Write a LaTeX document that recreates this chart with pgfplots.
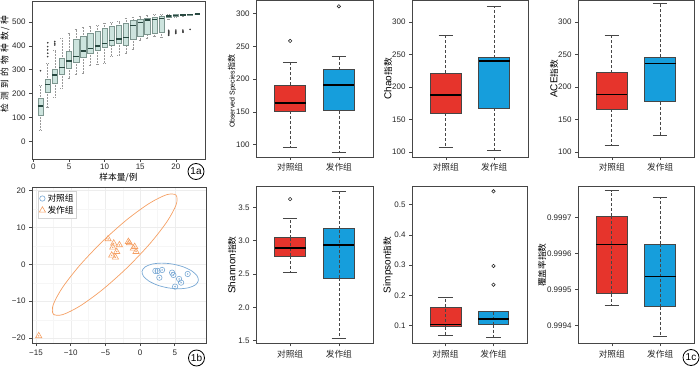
\documentclass[border=0pt]{standalone}
\usepackage{pgfplots}
\pgfplotsset{compat=1.18}
\usepgfplotslibrary{statistics}
\usepackage{fontspec}
\setmainfont{Liberation Sans}
\newfontfamily\cjk{Noto Sans CJK SC}
\definecolor{cred}{RGB}{230,52,44}
\definecolor{cblue}{RGB}{22,158,220}
\definecolor{cteal}{RGB}{205,228,222}
\definecolor{cteald}{RGB}{125,150,143}
\definecolor{cmed}{RGB}{40,72,64}
\definecolor{pblue}{RGB}{120,168,212}
\definecolor{porange}{RGB}{245,160,100}
\definecolor{frame}{RGB}{70,70,70}
\newcommand{\ck}[1]{{\cjk\fontsize{8.7}{9}\selectfont #1}}
\pgfplotsset{
  base/.style={
    scale only axis, anchor=south west,
    axis line style={draw=frame, line width=0.8pt},
    tick align=outside, xtick pos=bottom, ytick pos=left,
    major tick length=3pt,
    every tick/.style={frame, line width=0.6pt},
    tick label style={font=\fontsize{8}{9}\selectfont, text=black!85},
    label style={font=\fontsize{8.5}{9}\selectfont, text=black!85},
  },
  ylab/.style 2 args={every axis y label/.style={at={(axis description cs:0,#2)}, xshift=#1, rotate=90, anchor=center}},
  cmp/.style={
    base, width=117pt, height=156.5pt,
    xmin=0.3, xmax=2.7, xtick={1,2},
    xticklabels={\ck{对照组},\ck{发作组}},
    ylab={-24pt}{0.5},
    boxplot/draw direction=y,
    boxplot/box extend=0.64,
    boxplot/whisker extend=0.3,
    boxplot/every median/.style={line width=1.5pt, draw=black},
    boxplot/draw/lower whisker/.code={
      \draw[dash pattern=on 3pt off 2pt, frame, line width=0.7pt] (boxplot box cs:\pgfplotsboxplotvalue{lower quartile},0.5) -- (boxplot box cs:\pgfplotsboxplotvalue{lower whisker},0.5);
      \draw[frame, line width=0.7pt] (boxplot whisker cs:\pgfplotsboxplotvalue{lower whisker},0) -- (boxplot whisker cs:\pgfplotsboxplotvalue{lower whisker},1);
    },
    boxplot/draw/upper whisker/.code={
      \draw[dash pattern=on 3pt off 2pt, frame, line width=0.7pt] (boxplot box cs:\pgfplotsboxplotvalue{upper quartile},0.5) -- (boxplot box cs:\pgfplotsboxplotvalue{upper whisker},0.5);
      \draw[frame, line width=0.7pt] (boxplot whisker cs:\pgfplotsboxplotvalue{upper whisker},0) -- (boxplot whisker cs:\pgfplotsboxplotvalue{upper whisker},1);
    },
  },
  thru/.style={
    boxplot/draw/box/.code={
      \draw[/pgfplots/boxplot/every box/.try] (boxplot box cs:\pgfplotsboxplotvalue{lower quartile},0) rectangle (boxplot box cs:\pgfplotsboxplotvalue{upper quartile},1);
      \draw[dash pattern=on 3pt off 2pt, frame, line width=0.7pt] (boxplot box cs:\pgfplotsboxplotvalue{lower quartile},0.5) -- (boxplot box cs:\pgfplotsboxplotvalue{upper quartile},0.5);
    },
  },
  redbox/.style={boxplot/every box/.style={fill=cred, draw=frame, line width=0.7pt}, mark=o, mark size=1.7pt, mark options={solid, draw=black!85, line width=0.6pt}},
  bluebox/.style={boxplot/every box/.style={fill=cblue, draw=frame, line width=0.7pt}, mark=o, mark size=1.7pt, mark options={solid, draw=black!85, line width=0.6pt}},
  rare/.style={
    boxplot/every box/.style={fill=cteal, draw=cteald, line width=0.5pt},
    boxplot/every median/.style={draw=cmed, line width=1.4pt},
    boxplot/every whisker/.style={densely dotted, draw=gray!80, line width=0.5pt},
    mark=*, mark size=0.6pt, mark options={solid, fill=black!75, draw=black!75},
  },
}
\begin{document}
\begin{tikzpicture}
\useasboundingbox (0,0) rectangle (700pt,367pt);

% ---------- 1a rarefaction ----------
\begin{axis}[base, at={(32pt,208pt)}, width=173pt, height=158pt,
  xmin=-0.2, xmax=24.1, ymin=-74, ymax=588,
  xtick={0,5,10,15,20}, xticklabels={0,5,10,15,20},
  ytick={0,100,200,300,400,500}, yticklabels={0,100,200,300,400,500},
  xticklabel style={yshift=2pt},
  xlabel={\ck{样本量/例}},
  ylabel={\ck{检\hspace{3.2pt}测\hspace{3.2pt}到\hspace{3.2pt}的\hspace{3.2pt}物\hspace{3.2pt}种\hspace{3.2pt}数\hspace{2pt}/\hspace{2pt}种}},
  ylab={-27pt}{0.6},
  every axis x label/.style={at={(axis description cs:0.5,0)}, yshift=-19pt, anchor=center},
  boxplot/draw direction=y, boxplot/box extend=0.75, boxplot/whisker extend=0.4,
]
\addplot[rare, boxplot prepared={draw position=1, lower whisker=47.5, lower quartile=110, median=148, upper quartile=180, upper whisker=236}] table[row sep=\\,y index=0] {data\\ 296\\};
\addplot[rare, boxplot prepared={draw position=2, lower whisker=142, lower quartile=205, median=237, upper quartile=260, upper whisker=327}] table[row sep=\\,y index=0] {data\\ 355\\ 369\\ 383\\ 397\\ 413\\};
\addplot[rare, boxplot prepared={draw position=3, lower whisker=183, lower quartile=243, median=278, upper quartile=303, upper whisker=383}] table[row sep=\\,y index=0] {data\\ 404\\ 411\\ 418\\};
\addplot[rare, boxplot prepared={draw position=4, lower whisker=222, lower quartile=282, median=310, upper quartile=348, upper whisker=432}] coordinates {};
\addplot[rare, boxplot prepared={draw position=5, lower whisker=264, lower quartile=306, median=337, upper quartile=379, upper whisker=453}] coordinates {};
\addplot[rare, boxplot prepared={draw position=6, lower whisker=282, lower quartile=331, median=355, upper quartile=427, upper whisker=469}] coordinates {};
\addplot[rare, boxplot prepared={draw position=7, lower whisker=285, lower quartile=352, median=379, upper quartile=441, upper whisker=478}] coordinates {};
\addplot[rare, boxplot prepared={draw position=8, lower whisker=320, lower quartile=369, median=390, upper quartile=453, upper whisker=483}] coordinates {};
\addplot[rare, boxplot prepared={draw position=9, lower whisker=324, lower quartile=381, median=399, upper quartile=462, upper whisker=487}] coordinates {};
\addplot[rare, boxplot prepared={draw position=10, lower whisker=327, lower quartile=394, median=411, upper quartile=474, upper whisker=494}] coordinates {};
\addplot[rare, boxplot prepared={draw position=11, lower whisker=355, lower quartile=404, median=422, upper quartile=483, upper whisker=497}] coordinates {};
\addplot[rare, boxplot prepared={draw position=12, lower whisker=362, lower quartile=411, median=429, upper quartile=487, upper whisker=505}] coordinates {};
\addplot[rare, boxplot prepared={draw position=13, lower whisker=369, lower quartile=404, median=436, upper quartile=494, upper whisker=515}] coordinates {};
\addplot[rare, boxplot prepared={draw position=14, lower whisker=386, lower quartile=427, median=485, upper quartile=506, upper whisker=520}] coordinates {};
\addplot[rare, boxplot prepared={draw position=15, lower whisker=425, lower quartile=441, median=499, upper quartile=513, upper whisker=525}] coordinates {};
\addplot[rare, boxplot prepared={draw position=16, lower whisker=432, lower quartile=450, median=508, upper quartile=515, upper whisker=529}] coordinates {};
\addplot[rare, boxplot prepared={draw position=17, lower whisker=439, lower quartile=453, median=511, upper quartile=520, upper whisker=531}] coordinates {};
\addplot[rare, boxplot prepared={draw position=18, lower whisker=436, lower quartile=457, median=515, upper quartile=522, upper whisker=532}] coordinates {};
\addplot[rare, boxplot prepared={draw position=19, lower whisker=513, lower quartile=520, median=525, upper quartile=529, upper whisker=532}] table[row sep=\\,y index=0] {data\\ 444\\ 448\\ 452\\ 456\\ 460\\ 465\\};
\addplot[rare, boxplot prepared={draw position=20, lower whisker=519, lower quartile=524, median=527, upper quartile=531, upper whisker=533}] table[row sep=\\,y index=0] {data\\ 452\\ 456\\ 460\\ 466\\};
\addplot[rare, boxplot prepared={draw position=21, lower whisker=523, lower quartile=527, median=530, upper quartile=532, upper whisker=534}] table[row sep=\\,y index=0] {data\\ 457\\ 461\\ 466\\};
\addplot[rare, boxplot prepared={draw position=22, lower whisker=527, lower quartile=530, median=532, upper quartile=533, upper whisker=534}] table[row sep=\\,y index=0] {data\\ 469\\};
\addplot[rare, boxplot prepared={draw position=23, lower whisker=533.5, lower quartile=533.5, median=533.5, upper quartile=533.5, upper whisker=533.5}] coordinates {};
\end{axis}

% ---------- 1b PCA ----------
\begin{axis}[base, at={(32pt,24pt)}, width=174pt, height=156pt,
  xmin=-15.58, xmax=9.5, ymin=-21.3, ymax=20.9,
  xtick={-15,-10,-5,0,5}, xticklabels={−15,−10,−5,0,5},
  ytick={-20,-10,0,10,20}, yticklabels={−20,−10,0,10,20},
  minor x tick num=1, minor y tick num=1, minor tick length=0pt,
  grid=both, major grid style={gray!14, line width=0.4pt}, minor grid style={gray!7, line width=0.3pt},
  legend style={at={(0.035,0.975)}, anchor=north west, draw=gray!35, fill=white,
    font=\fontsize{8.5}{9}\selectfont, inner sep=1pt, row sep=-1pt},
  legend cell align=left,
]
\addplot[porange, line width=0.7pt, smooth cycle, no markers, forget plot] coordinates {
 (5.18,18.70) (5.20,16.14) (3.87,11.51) (1.40,5.54) (-1.85,-0.89) (-5.37,-6.79) (-8.63,-11.25) (-11.14,-13.61)
 (-12.50,-13.50) (-12.52,-10.94) (-11.19,-6.31) (-8.72,-0.34) (-5.47,6.09) (-1.95,11.99) (1.31,16.45) (3.82,18.81)};
\addplot[pblue, line width=0.7pt, smooth cycle, no markers, forget plot] coordinates {
 (8.40,-4.43) (8.20,-3.10) (7.42,-1.77) (6.16,-0.66) (4.63,0.07) (3.05,0.31) (1.68,0.02) (0.70,-0.75)
 (0.28,-1.89) (0.48,-3.22) (1.27,-4.55) (2.52,-5.66) (4.05,-6.39) (5.63,-6.63) (7.01,-6.34) (7.98,-5.57)};
\addplot[only marks, mark=o, mark size=2.7pt, pblue, line width=0.6pt] coordinates {
 (2.20,-1.81) (2.54,-1.81) (3.17,-1.54) (2.78,-3.62) (4.61,-2.27) (4.80,-2.89) (5.62,-3.97) (5.91,-4.97) (5.04,-6.05) (6.86,-2.63)};
\addlegendentry{\ck{对照组}}
\addplot[only marks, mark=triangle, mark size=3.6pt, porange, line width=0.6pt] coordinates {
 (-4.61,6.84) (-3.80,5.68) (-2.98,5.22) (-3.94,4.59) (-3.37,3.41) (-4.09,2.43) (-3.56,1.89) (-1.69,6.11) (-1.54,5.76) (-0.78,4.76) (-0.97,4.32) (-0.58,3.41) (-14.61,-19.38)};
\addlegendentry{\ck{发作组}}
\addplot[only marks, mark=*, mark size=0.45pt, pblue, forget plot] coordinates {
 (2.20,-1.81) (2.54,-1.81) (3.17,-1.54) (2.78,-3.62) (4.61,-2.27) (4.80,-2.89) (5.62,-3.97) (5.91,-4.97) (5.04,-6.05) (6.86,-2.63)};
\addplot[only marks, mark=*, mark size=0.45pt, porange, forget plot] coordinates {
 (-4.61,6.84) (-3.80,5.68) (-2.98,5.22) (-3.94,4.59) (-3.37,3.41) (-4.09,2.43) (-3.56,1.89) (-1.69,6.11) (-1.54,5.76) (-0.78,4.76) (-0.97,4.32) (-0.58,3.41) (-14.61,-19.38)};
\end{axis}

% ---------- Observed Species ----------
\begin{axis}[cmp, at={(256pt,210pt)}, ymin=81, ymax=320,
  ytick={100,150,200,250,300}, yticklabels={100,150,200,250,300},
  ylab={-24pt}{0.42},
  ylabel={{\fontsize{7}{8}\selectfont Observed Species}{\cjk\fontsize{8}{8}\selectfont 指数}}]
\addplot[redbox, boxplot prepared={draw position=1, lower whisker=96.4, lower quartile=151.4, median=163.6, upper quartile=190.6, upper whisker=226.2}] table[row sep=\\,y index=0] {data\\ 258.3\\};
\addplot[bluebox, boxplot prepared={draw position=2, lower whisker=88.3, lower quartile=151.9, median=191.1, upper quartile=214.5, upper whisker=235.4}] table[row sep=\\,y index=0] {data\\ 311.2\\};
\end{axis}

% ---------- Chao ----------
\begin{axis}[cmp, at={(412pt,210pt)}, width=116pt, ymin=92, ymax=333,
  ytick={100,150,200,250,300}, yticklabels={100,150,200,250,300},
  ylabel={Chao\ck{指数}}]
\addplot[redbox, boxplot prepared={draw position=1, lower whisker=106.1, lower quartile=159.7, median=187.2, upper quartile=221, upper whisker=278.6}] coordinates {};
\addplot[bluebox, boxplot prepared={draw position=2, lower whisker=102, lower quartile=166.8, median=239.8, upper quartile=244.9, upper whisker=324.5}] coordinates {};
\end{axis}

% ---------- ACE ----------
\begin{axis}[cmp, at={(578pt,210pt)}, width=116pt, ymin=92, ymax=333,
  ytick={100,150,200,250,300}, yticklabels={100,150,200,250,300},
  ylabel={ACE\ck{指数}}]
\addplot[redbox, boxplot prepared={draw position=1, lower whisker=110.1, lower quartile=165.6, median=188, upper quartile=222.1, upper whisker=279.1}] coordinates {};
\addplot[bluebox, boxplot prepared={draw position=2, lower whisker=125.5, lower quartile=177.4, median=235.9, upper quartile=245.5, upper whisker=328}] coordinates {};
\end{axis}

% ---------- Shannon ----------
\begin{axis}[cmp, thru, at={(256pt,23.7pt)}, ymin=1.46, ymax=3.81,
  ytick={1.5,2,2.5,3,3.5}, yticklabels={1.5,2.0,2.5,3.0,3.5},
  ylabel={Shannon\ck{指数}}]
\addplot[redbox, boxplot prepared={draw position=1, lower whisker=2.52, lower quartile=2.77, median=2.89, upper quartile=3.045, upper whisker=3.335}] table[row sep=\\,y index=0] {data\\ 3.625\\};
\addplot[bluebox, boxplot prepared={draw position=2, lower whisker=1.54, lower quartile=2.44, median=2.935, upper quartile=3.18, upper whisker=3.735}] coordinates {};
\end{axis}

% ---------- Simpson ----------
\begin{axis}[cmp, thru, at={(412pt,23.7pt)}, width=115pt, ymin=0.041, ymax=0.559,
  ytick={0.1,0.2,0.3,0.4,0.5}, yticklabels={0.1,0.2,0.3,0.4,0.5},
  ylabel={Simpson\ck{指数}}]
\addplot[redbox, boxplot prepared={draw position=1, lower whisker=0.068, lower quartile=0.096, median=0.103, upper quartile=0.161, upper whisker=0.192}] coordinates {};
\addplot[bluebox, boxplot prepared={draw position=2, lower whisker=0.061, lower quartile=0.103, median=0.122, upper quartile=0.147, upper whisker=0.147}] table[row sep=\\,y index=0] {data\\ 0.235\\ 0.297\\ 0.544\\};
\end{axis}

% ---------- Coverage (values as (v-0.999)*1e4) ----------
\begin{axis}[cmp, thru, at={(578pt,23.7pt)}, width=116pt, ymin=3.5, ymax=7.85,
  ytick={4,5,6,7}, yticklabels={0.9994,0.9995,0.9996,0.9997},
  ylab={-36pt}{0.5},
  ylabel={\ck{覆盖率指数}}]
\addplot[redbox, boxplot prepared={draw position=1, lower whisker=4.55, lower quartile=4.88, median=6.25, upper quartile=7.04, upper whisker=7.74}] coordinates {};
\addplot[bluebox, boxplot prepared={draw position=2, lower whisker=3.69, lower quartile=4.52, median=5.36, upper quartile=6.26, upper whisker=7.56}] coordinates {};
\end{axis}

% ---------- panel tags ----------
\node[draw=black, circle, line width=0.8pt, minimum size=16pt, inner sep=0pt, font=\fontsize{10}{10}\selectfont] at (196pt,195.5pt) {1a};
\node[draw=black, circle, line width=0.8pt, minimum size=16pt, inner sep=0pt, font=\fontsize{10}{10}\selectfont] at (196.5pt,9pt) {1b};
\node[draw=black, circle, line width=0.8pt, minimum size=16pt, inner sep=0pt, font=\fontsize{10}{10}\selectfont] at (691pt,9.5pt) {1c};
\end{tikzpicture}
\end{document}
